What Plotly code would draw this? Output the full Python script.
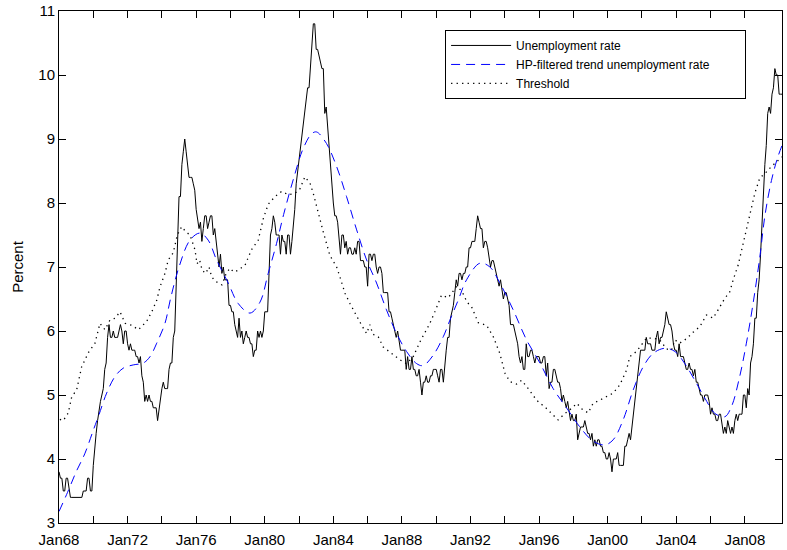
import plotly.graph_objects as go

start_year = 1968
# Monthly unemployment rate, Jan 1968 - Mar 2010 (one row per year)
unemployment_rate = [
    3.8, 3.7, 3.7, 3.5, 3.5, 3.7, 3.7, 3.5, 3.4, 3.4, 3.4, 3.4,
    3.4, 3.4, 3.4, 3.4, 3.4, 3.5, 3.5, 3.5, 3.7, 3.7, 3.5, 3.5,
    3.9, 4.2, 4.4, 4.6, 4.8, 4.9, 5.0, 5.1, 5.4, 5.5, 5.9, 6.1,
    5.9, 5.9, 6.0, 5.9, 5.9, 5.9, 6.0, 6.1, 6.0, 5.8, 6.0, 6.0,
    5.8, 5.7, 5.8, 5.7, 5.7, 5.7, 5.6, 5.6, 5.5, 5.6, 5.3, 5.2,
    4.9, 5.0, 4.9, 5.0, 4.9, 4.9, 4.8, 4.8, 4.8, 4.6, 4.8, 4.9,
    5.1, 5.2, 5.1, 5.1, 5.1, 5.4, 5.5, 5.5, 5.9, 6.0, 6.6, 7.2,
    8.1, 8.1, 8.6, 8.8, 9.0, 8.8, 8.6, 8.4, 8.4, 8.4, 8.3, 8.2,
    7.9, 7.7, 7.6, 7.7, 7.4, 7.6, 7.8, 7.8, 7.6, 7.7, 7.8, 7.8,
    7.5, 7.6, 7.4, 7.2, 7.0, 7.2, 6.9, 7.0, 6.8, 6.8, 6.8, 6.4,
    6.4, 6.3, 6.3, 6.1, 6.0, 5.9, 6.2, 5.9, 6.0, 5.8, 5.9, 6.0,
    5.9, 5.9, 5.8, 5.8, 5.6, 5.7, 5.7, 6.0, 5.9, 6.0, 5.9, 6.0,
    6.3, 6.3, 6.3, 6.9, 7.5, 7.6, 7.8, 7.7, 7.5, 7.5, 7.5, 7.2,
    7.5, 7.4, 7.4, 7.2, 7.5, 7.5, 7.2, 7.4, 7.6, 7.9, 8.3, 8.5,
    8.6, 8.9, 9.0, 9.3, 9.4, 9.6, 9.8, 9.8, 10.1, 10.4, 10.8, 10.8,
    10.4, 10.4, 10.3, 10.2, 10.1, 10.1, 9.4, 9.5, 9.2, 8.8, 8.5, 8.3,
    8.0, 7.8, 7.8, 7.7, 7.4, 7.2, 7.5, 7.5, 7.3, 7.4, 7.2, 7.3,
    7.3, 7.2, 7.2, 7.3, 7.2, 7.4, 7.4, 7.1, 7.1, 7.1, 7.0, 7.0,
    6.7, 7.2, 7.2, 7.1, 7.2, 7.2, 7.0, 6.9, 7.0, 7.0, 6.9, 6.6,
    6.6, 6.6, 6.6, 6.3, 6.3, 6.2, 6.1, 6.0, 5.9, 6.0, 5.8, 5.7,
    5.7, 5.7, 5.7, 5.4, 5.6, 5.4, 5.4, 5.6, 5.4, 5.4, 5.3, 5.3,
    5.4, 5.2, 5.0, 5.2, 5.2, 5.3, 5.2, 5.2, 5.3, 5.3, 5.4, 5.4,
    5.4, 5.3, 5.2, 5.4, 5.4, 5.2, 5.5, 5.7, 5.9, 5.9, 6.2, 6.3,
    6.4, 6.6, 6.8, 6.7, 6.9, 6.9, 6.8, 6.9, 6.9, 7.0, 7.0, 7.3,
    7.3, 7.4, 7.4, 7.4, 7.6, 7.8, 7.7, 7.6, 7.6, 7.3, 7.4, 7.4,
    7.3, 7.1, 7.0, 7.1, 7.1, 7.0, 6.9, 6.8, 6.7, 6.8, 6.6, 6.5,
    6.6, 6.6, 6.5, 6.4, 6.1, 6.1, 6.1, 6.0, 5.9, 5.8, 5.6, 5.5,
    5.6, 5.4, 5.4, 5.8, 5.6, 5.6, 5.7, 5.7, 5.6, 5.5, 5.6, 5.6,
    5.6, 5.5, 5.5, 5.6, 5.6, 5.3, 5.5, 5.1, 5.2, 5.2, 5.4, 5.4,
    5.3, 5.2, 5.2, 5.1, 4.9, 5.0, 4.9, 4.8, 4.9, 4.7, 4.6, 4.7,
    4.6, 4.6, 4.7, 4.3, 4.4, 4.5, 4.5, 4.5, 4.6, 4.5, 4.4, 4.4,
    4.3, 4.4, 4.2, 4.3, 4.2, 4.3, 4.3, 4.2, 4.2, 4.1, 4.1, 4.0,
    4.0, 4.1, 4.0, 3.8, 4.0, 4.0, 4.0, 4.1, 3.9, 3.9, 3.9, 3.9,
    4.2, 4.2, 4.3, 4.4, 4.3, 4.5, 4.6, 4.9, 5.0, 5.3, 5.5, 5.7,
    5.7, 5.7, 5.7, 5.9, 5.8, 5.8, 5.8, 5.7, 5.7, 5.7, 5.9, 6.0,
    5.8, 5.9, 5.9, 6.0, 6.1, 6.3, 6.2, 6.1, 6.1, 6.0, 5.8, 5.7,
    5.7, 5.6, 5.8, 5.6, 5.6, 5.6, 5.5, 5.4, 5.4, 5.5, 5.4, 5.4,
    5.3, 5.4, 5.2, 5.2, 5.1, 5.0, 5.0, 4.9, 5.0, 5.0, 5.0, 4.9,
    4.7, 4.8, 4.7, 4.7, 4.6, 4.6, 4.7, 4.7, 4.5, 4.4, 4.5, 4.4,
    4.6, 4.5, 4.4, 4.5, 4.4, 4.6, 4.7, 4.6, 4.7, 4.7, 4.7, 5.0,
    5.0, 4.8, 5.1, 5.0, 5.5, 5.6, 5.8, 6.2, 6.2, 6.6, 6.8, 7.2,
    7.7, 8.2, 8.6, 8.9, 9.4, 9.5, 9.4, 9.7, 9.8, 10.1, 10.0, 10.0,
    9.7, 9.7, 9.7,
]
unemployment_time = [start_year + i / 12 for i in range(len(unemployment_rate))]

# HP-filtered trend, read at irregular points (decimal years)
hp_time = [1968.0, 1968.5, 1969.0, 1969.5, 1970.0, 1970.29, 1970.78, 1971.27, 1971.75,
           1972.33, 1972.92, 1973.31, 1973.7, 1974.18, 1974.5, 1975.0, 1975.64, 1976.22,
           1976.7, 1977.19, 1977.87, 1978.45, 1979.14, 1979.72, 1980.2, 1980.69, 1981.1,
           1981.7, 1982.24, 1982.73, 1983.02, 1983.6, 1984.19, 1984.77, 1985.36, 1985.94,
           1986.52, 1987.1, 1987.69, 1988.27, 1988.86, 1989.24, 1989.82, 1990.41, 1990.8,
           1991.28, 1991.77, 1992.55, 1993.13, 1993.71, 1994.49, 1995.27, 1996.05, 1996.82,
           1997.6, 1998.38, 1999.15, 1999.83, 2000.32, 2000.9, 2001.49, 2002.07, 2002.65,
           2003.33, 2003.92, 2004.5, 2005.08, 2005.67, 2006.26, 2006.83, 2007.22, 2007.7,
           2008.09, 2008.48, 2008.87, 2009.17, 2009.55, 2009.9, 2010.17]
hp_trend = [3.18, 3.48, 3.8, 4.08, 4.45, 4.66, 5.03, 5.29, 5.42,
            5.47, 5.5, 5.6, 5.81, 6.12, 6.5, 7.0, 7.42, 7.53,
            7.42, 7.11, 6.75, 6.43, 6.28, 6.45, 6.9, 7.37, 7.82,
            8.4, 8.85, 9.08, 9.11, 8.93, 8.57, 8.1, 7.58, 7.11,
            6.75, 6.33, 5.96, 5.68, 5.49, 5.46, 5.62, 5.91, 6.17,
            6.48, 6.8, 7.06, 7.0, 6.75, 6.33, 5.86, 5.5, 5.1,
            4.8, 4.5, 4.28, 4.22, 4.3, 4.61, 5.08, 5.44, 5.65,
            5.73, 5.68, 5.49, 5.23, 4.95, 4.71, 4.66, 4.82, 5.29,
            5.81, 6.43, 7.15, 7.8, 8.35, 8.7, 8.9]

# Threshold, read at irregular points (decimal years)
thr_time = [1968.05, 1968.25, 1968.54, 1968.74, 1969.03, 1969.32, 1969.71, 1970.1, 1970.39,
            1970.68, 1970.97, 1971.27, 1971.56, 1971.85, 1972.24, 1972.63, 1973.11, 1973.41,
            1973.7, 1973.89, 1974.18, 1974.37, 1974.66, 1974.9, 1975.15, 1975.4, 1975.64,
            1975.93, 1976.05, 1976.2, 1976.35, 1976.55, 1976.75, 1976.9, 1977.1, 1977.3,
            1977.5, 1977.75, 1977.97, 1978.2, 1978.45, 1978.85, 1979.23, 1979.62, 1979.91,
            1980.2, 1980.6, 1980.98, 1981.37, 1981.76, 1982.05, 1982.34, 1982.5, 1982.64,
            1982.83, 1983.12, 1983.41, 1983.8, 1984.19, 1984.38, 1984.68, 1984.97, 1985.36,
            1985.65, 1985.94, 1986.13, 1986.3, 1986.62, 1986.91, 1987.4, 1987.88, 1988.27,
            1988.66, 1989.05, 1989.44, 1989.63, 1989.92, 1990.31, 1990.7, 1991.0, 1991.2,
            1991.5, 1991.8, 1992.06, 1992.45, 1992.94, 1993.33, 1993.71, 1994.01, 1994.3,
            1994.69, 1994.98, 1995.37, 1995.85, 1996.43, 1996.92, 1997.11, 1997.5, 1997.89,
            1998.2, 1998.5, 1998.86, 1999.15, 1999.54, 1999.93, 2000.32, 2000.71, 2001.1,
            2001.29, 2001.68, 2002.27, 2002.65, 2003.04, 2003.43, 2003.72, 2003.92, 2004.2,
            2004.6, 2004.98, 2005.38, 2005.76, 2006.15, 2006.44, 2006.83, 2007.12, 2007.32,
            2007.61, 2007.8, 2008.09, 2008.28, 2008.58, 2008.87, 2009.17, 2009.55, 2009.94,
            2010.17]
threshold = [4.62, 4.6, 4.72, 4.97, 5.08, 5.44, 5.66, 5.81, 6.12,
             6.02, 6.17, 6.2, 6.3, 6.12, 6.09, 6.02, 6.15, 6.3,
             6.48, 6.69, 6.9, 7.11, 7.22, 7.5, 7.63, 7.55, 7.5,
             7.27, 7.05, 7.11, 6.95, 6.9, 7.0, 6.85, 6.78, 6.75,
             6.72, 6.9, 6.98, 6.92, 6.95, 7.03, 7.27, 7.42, 7.75,
             7.98, 8.1, 8.18, 8.13, 8.15, 8.22, 8.41, 8.35, 8.31,
             8.15, 7.84, 7.55, 7.18, 7.0, 6.85, 6.59, 6.43, 6.22,
             6.09, 5.96, 6.1, 5.95, 5.91, 5.75, 5.65, 5.55, 5.49,
             5.6, 5.83, 6.02, 6.12, 6.3, 6.56, 6.52, 6.62, 6.7,
             6.62, 6.45, 6.38, 6.13, 6.09, 5.91, 5.65, 5.34, 5.21,
             5.17, 5.23, 5.1, 4.92, 4.79, 4.66, 4.61, 4.71, 4.79,
             4.87, 4.78, 4.72, 4.87, 4.92, 4.97, 5.03, 5.16, 5.39,
             5.6, 5.68, 5.89, 5.89, 5.86, 5.72, 5.7, 5.86, 5.81,
             5.88, 5.98, 6.07, 6.25, 6.2, 6.33, 6.51, 6.61, 6.8,
             7.03, 7.25, 7.58, 7.84, 8.15, 8.39, 8.46, 8.57, 8.67,
             8.72]

tick_years = list(range(1968, 2010, 2))
tick_labels = ["Jan%02d" % (y % 100) if (y - 1968) % 4 == 0 else "" for y in tick_years]

series_names = ["Unemployment rate",
                "HP-filtered trend unemployment rate" + "\u00a0" * 9,
                "Threshold"]

fig = go.Figure()
fig.add_trace(go.Scatter(x=unemployment_time, y=unemployment_rate, mode="lines",
                         name=series_names[0], line=dict(color="black", width=1)))
fig.add_trace(go.Scatter(x=hp_time, y=hp_trend, mode="lines", name=series_names[1],
                         line=dict(color="#0000ff", width=1, dash="9px,6px", shape="spline", smoothing=1.0)))
fig.add_trace(go.Scatter(x=thr_time, y=threshold, mode="lines", name=series_names[2],
                         line=dict(color="black", width=1.3, dash="1.3px,4.2px")))

axis_common = dict(showline=True, linecolor="black", linewidth=1, mirror="ticks",
                   ticks="inside", ticklen=7, tickcolor="black", showgrid=False,
                   zeroline=False, tickfont=dict(size=15, color="black"), automargin=False)

fig.update_layout(
    width=787, height=550,
    margin=dict(l=59, r=5, t=11, b=27),
    paper_bgcolor="white", plot_bgcolor="white",
    font=dict(family="Liberation Sans, Arial, sans-serif", color="black"),
    xaxis=dict(range=[1968, 2010 + 2 / 12], tickvals=tick_years, ticktext=tick_labels,
               ticklabelstandoff=3, **axis_common),
    yaxis=dict(range=[3, 11], dtick=1, tick0=3,
               title=dict(text="Percent", font=dict(size=15), standoff=11), **axis_common),
    legend=dict(x=0.534, y=0.963, xanchor="left", yanchor="top",
                bgcolor="white", bordercolor="black", borderwidth=1,
                font=dict(size=12, color="black"), itemwidth=60, tracegroupgap=0),
    showlegend=True,
)

fig.write_html("out.html")
